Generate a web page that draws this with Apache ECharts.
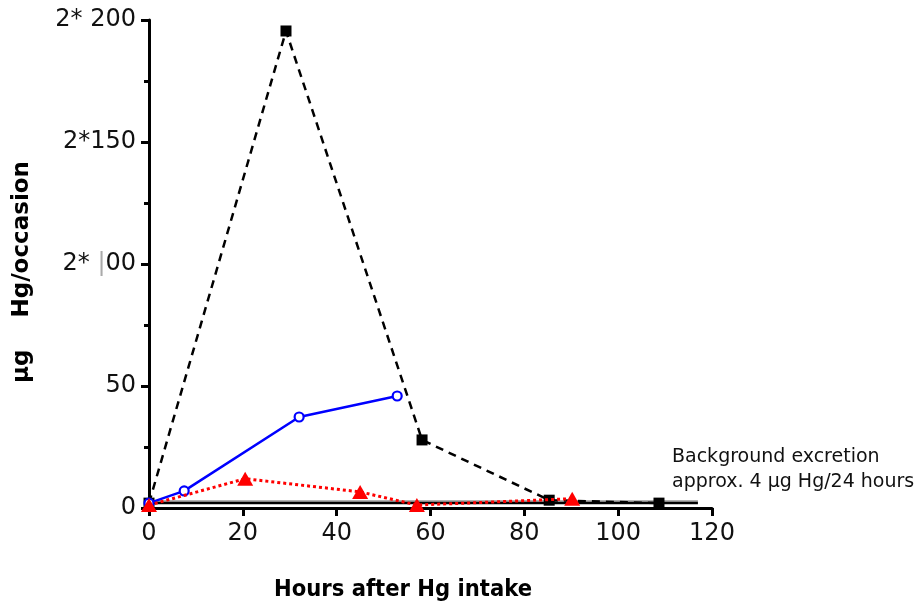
<!DOCTYPE html>
<html><head><meta charset="utf-8">
<script src="https://cdn.jsdelivr.net/npm/echarts@6/dist/echarts.min.js"></script>
<style>html,body{margin:0;padding:0;background:#fff}#c{width:922px;height:608px}</style>
</head><body><div id="c"></div>
<script>
var xTicks = [0, 20, 40, 60, 80, 100, 120];
var yTickLabels = {0: '0', 50: '50', 100: '2* {g||}00', 150: '2*150', 200: '2* 200'};
var blackSeries = [[0, 2], [29.2, 195.5], [58.2, 27.9], [85.3, 3.2], [108.7, 2]];
var blueSeries = [[0, 2], [7.5, 7], [32, 37.3], [52.9, 45.9]];
var redSeries = [[0, 1.2], [20.5, 12], [45, 6.6], [57.1, 1.2], [90.2, 3.8]];
var backgroundLine = [[0, 2], [117, 2]];
var backgroundShadow = [[0, 2.9], [117, 2.9]];
var bgLabel = 'Background excretion\napprox. 4 \u03bcg Hg/24 hours';
var xTitle = 'Hours after Hg intake';
var yTitle = '\u03bcg    Hg/occasion';

var chart = echarts.init(document.getElementById('c'));
var font = 'DejaVu Sans';
chart.setOption({
  animation: false,
  grid: {left: 149, right: 210, top: 20, bottom: 100},
  xAxis: {
    type: 'value', min: 0, max: 120, interval: 20,
    axisLine: {lineStyle: {color: '#000', width: 3}},
    axisTick: {inside: false, length: 8, lineStyle: {width: 3, color: '#000'}},
    axisLabel: {fontFamily: font, fontSize: 24, color: '#111', margin: 14,
      formatter: function (v) { return xTicks.indexOf(v) >= 0 ? String(v) : ''; }},
    splitLine: {show: false}
  },
  yAxis: {
    type: 'value', min: 0, max: 200, interval: 50,
    axisLine: {show: true, lineStyle: {color: '#000', width: 3}},
    axisTick: {show: true, length: 8, lineStyle: {width: 3, color: '#000'}},
    minorTick: {show: true, splitNumber: 2, length: 5, lineStyle: {width: 3, color: '#000'}},
    axisLabel: {fontFamily: font, fontSize: 24, color: '#111', margin: 13,
      formatter: function (v) { return yTickLabels[v] || ''; },
      rich: {g: {fontFamily: font, fontSize: 24, color: '#aaa'}}},
    splitLine: {show: false}
  },
  series: [
    {type: 'line', data: backgroundShadow, symbol: 'none', silent: true,
     lineStyle: {color: '#999', width: 1.5}, z: 1},
    {type: 'line', data: backgroundLine, symbol: 'none', silent: true,
     lineStyle: {color: '#000', width: 2.5}, z: 1},
    {type: 'line', data: blackSeries, symbol: 'rect', symbolSize: 11,
     itemStyle: {color: '#000'}, lineStyle: {color: '#000', width: 2.5, type: [8, 6]}, z: 3},
    {type: 'line', data: blueSeries, symbol: 'circle', symbolSize: 9, showAllSymbol: true,
     itemStyle: {color: '#fff', borderColor: '#0000ff', borderWidth: 2.2},
     lineStyle: {color: '#0000ff', width: 2.5}, z: 4},
    {type: 'line', data: redSeries, symbol: 'triangle', symbolSize: [16, 14],
     itemStyle: {color: '#ff0000'}, lineStyle: {color: '#ff0000', width: 3, type: [3, 3]}, z: 5}
  ],
  graphic: [
    {type: 'text', left: 672, top: 445, style: {text: bgLabel, fontFamily: font, fontSize: 19, fill: '#111', lineHeight: 25}},
    {type: 'text', x: 403, y: 590, style: {text: xTitle, fontFamily: 'DejaVu Sans Condensed', fontWeight: 'bold', fontSize: 23.5, fill: '#000', align: 'center', verticalAlign: 'middle'}},
    {type: 'text', x: 22, y: 272, rotation: Math.PI / 2, style: {text: yTitle, fontFamily: 'DejaVu Sans', fontWeight: 'bold', fontSize: 23, fill: '#000', align: 'center', verticalAlign: 'middle'}}
  ]
});
</script></body></html>
